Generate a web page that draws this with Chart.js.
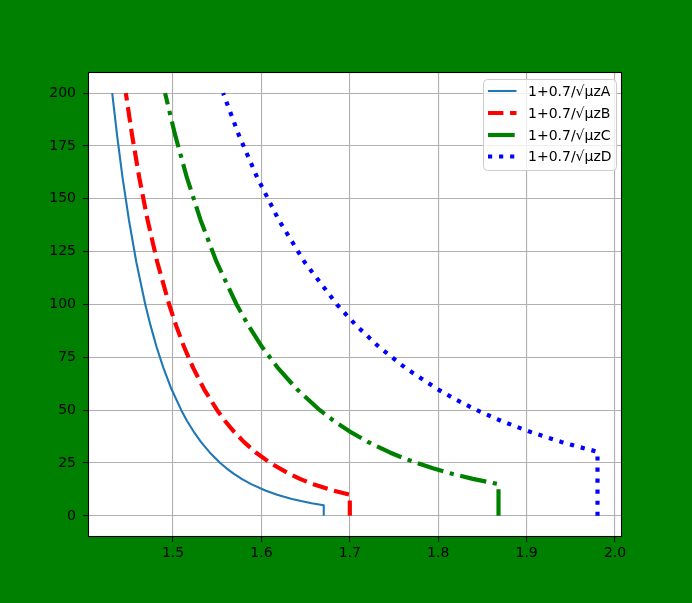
<!DOCTYPE html>
<html><head><meta charset="utf-8">
<script src="https://cdn.jsdelivr.net/npm/chart.js@4/dist/chart.umd.min.js"></script>
<style>html,body{margin:0;padding:0;background:#008000;}canvas{display:block;}</style>
</head><body>
<canvas id="c" width="692" height="603"></canvas>
<script>
const labels = ['1+0.7/√μzA', '1+0.7/√μzB', '1+0.7/√μzC', '1+0.7/√μzD'];
const zA = [0, 5.05, 6, 7, 8, 9, 10, 12, 15, 17.5, 20, 22.5, 25, 30, 35, 40, 45, 50, 60, 70, 80, 90, 100, 120, 140, 160, 180, 200];
const xA = [1.6705, 1.6705, 1.6568, 1.6448, 1.6345, 1.6256, 1.6178, 1.6044, 1.5884, 1.5776, 1.5685, 1.5605, 1.5534, 1.5415, 1.5315, 1.5231, 1.5157, 1.5093, 1.4982, 1.4891, 1.4813, 1.4746, 1.4686, 1.4585, 1.4501, 1.4429, 1.4367, 1.4312];
const zB = [0, 10, 12, 15, 17.5, 20, 25, 30, 35, 40, 45, 50, 60, 70, 80, 90, 100, 120, 140, 160, 180, 200];
const xB = [1.7, 1.7, 1.6811, 1.6587, 1.6436, 1.6309, 1.6101, 1.5937, 1.5801, 1.5686, 1.5586, 1.5499, 1.5350, 1.5228, 1.5124, 1.5035, 1.4956, 1.4822, 1.4712, 1.4618, 1.4537, 1.4466];
const zC = [0, 15, 17.5, 20, 22.5, 25, 27.5, 30, 35, 40, 45, 50, 60, 70, 80, 90, 100, 120, 140, 160, 180, 200];
const xC = [1.8682, 1.8682, 1.8391, 1.8148, 1.7940, 1.7758, 1.7597, 1.7453, 1.7204, 1.6996, 1.6817, 1.6661, 1.6399, 1.6186, 1.6006, 1.5853, 1.5719, 1.5494, 1.5311, 1.5157, 1.5025, 1.4910];
const zD = [0, 30.35, 32.5, 35, 40, 45, 50, 55, 60, 70, 80, 90, 100, 120, 140, 160, 180, 200];
const xD = [1.9802, 1.9802, 1.9602, 1.9391, 1.9023, 1.8709, 1.8438, 1.8200, 1.7989, 1.7628, 1.7328, 1.7074, 1.6854, 1.6489, 1.6196, 1.5953, 1.5746, 1.5567];
const xTicks = [1.5, 1.6, 1.7, 1.8, 1.9, 2.0];
const yTicks = [0, 25, 50, 75, 100, 125, 150, 175, 200];

function pts(xs, zs) { return xs.map((x, i) => ({x: x, y: zs[i]})); }

const styles = [
  {color: '#1f77b4', width: 2.08, dash: []},
  {color: '#ff0000', width: 4.17, dash: [15.4, 6.67]},
  {color: '#008000', width: 4.17, dash: [26.7, 6.67, 4.17, 6.67]},
  {color: '#0000ff', width: 4.17, dash: [4.17, 6.88]}
];
const series = [pts(xA, zA), pts(xB, zB), pts(xC, zC), pts(xD, zD)];

Chart.defaults.font.family = 'DejaVu Sans';
Chart.defaults.font.size = 14;
Chart.defaults.color = '#000';

const bgPlugin = {
  id: 'bg',
  beforeDraw(chart) {
    const ctx = chart.ctx, a = chart.chartArea;
    ctx.save();
    ctx.fillStyle = '#008000';
    ctx.fillRect(0, 0, chart.width, chart.height);
    ctx.fillStyle = '#ffffff';
    ctx.fillRect(a.left, a.top, a.right - a.left, a.bottom - a.top);
    ctx.restore();
  },
  afterDraw(chart) {
    const ctx = chart.ctx, a = chart.chartArea;
    ctx.save();
    ctx.strokeStyle = '#000';
    ctx.lineWidth = 1.1;
    ctx.strokeRect(Math.round(a.left) + 0.5, Math.round(a.top) + 0.5, Math.round(a.right - a.left) - 1, Math.round(a.bottom - a.top) - 1);
    // legend
    const bx = 483.5, by = 79.5, bw = 133, bh = 91, r = 4;
    ctx.beginPath();
    ctx.moveTo(bx + r, by);
    ctx.lineTo(bx + bw - r, by); ctx.arcTo(bx + bw, by, bx + bw, by + r, r);
    ctx.lineTo(bx + bw, by + bh - r); ctx.arcTo(bx + bw, by + bh, bx + bw - r, by + bh, r);
    ctx.lineTo(bx + r, by + bh); ctx.arcTo(bx, by + bh, bx, by + bh - r, r);
    ctx.lineTo(bx, by + r); ctx.arcTo(bx, by, bx + r, by, r);
    ctx.closePath();
    ctx.fillStyle = 'rgba(255,255,255,0.8)';
    ctx.fill();
    ctx.strokeStyle = '#cccccc';
    ctx.lineWidth = 1;
    ctx.stroke();
    ctx.font = '14px "DejaVu Sans"';
    ctx.textBaseline = 'middle';
    ctx.textAlign = 'left';
    ctx.fillStyle = '#000';
    const rows = [91, 113, 135, 156.5];
    labels.forEach((t, i) => {
      const s = styles[i];
      ctx.beginPath();
      ctx.setLineDash(s.dash);
      ctx.lineWidth = s.width;
      ctx.strokeStyle = s.color;
      ctx.moveTo(488, rows[i]); ctx.lineTo(516.5, rows[i]);
      ctx.stroke();
      ctx.setLineDash([]);
      ctx.fillText(t, 528, rows[i] + 1);
    });
    ctx.restore();
  }
};

new Chart(document.getElementById('c'), {
  type: 'line',
  data: {
    datasets: series.map((d, i) => ({
      label: labels[i],
      data: d,
      borderColor: styles[i].color,
      backgroundColor: styles[i].color,
      borderWidth: styles[i].width,
      borderDash: styles[i].dash,
      borderCapStyle: 'butt',
      borderJoinStyle: 'round',
      pointRadius: 0,
      tension: 0,
      fill: false
    }))
  },
  options: {
    responsive: false,
    animation: false,
    devicePixelRatio: 1,
    layout: {padding: {left: 0, top: 72, right: 70, bottom: 0}},
    plugins: {legend: {display: false}, tooltip: {enabled: false}},
    scales: {
      x: {
        type: 'linear', min: 1.4038, max: 2.0079,
        afterFit(s) { s.height = 66; },
        afterBuildTicks(s) { s.ticks = xTicks.map(v => ({value: v})); },
        ticks: {padding: 3, color: '#000', maxRotation: 0, autoSkip: false, callback: v => Number(v).toFixed(1)},
        grid: {color: '#b0b0b0', lineWidth: 1.1, tickLength: 5, tickColor: '#000', tickWidth: 1.1},
        border: {display: false}
      },
      y: {
        type: 'linear', min: -10, max: 210,
        afterFit(s) { s.width = 88; },
        afterBuildTicks(s) { s.ticks = yTicks.map(v => ({value: v})); },
        ticks: {padding: 7, color: '#000', autoSkip: false, callback: v => String(v)},
        grid: {color: '#b0b0b0', lineWidth: 1.1, tickLength: 5, tickColor: '#000', tickWidth: 1.1},
        border: {display: false}
      }
    }
  },
  plugins: [bgPlugin]
});
</script>
</body></html>
